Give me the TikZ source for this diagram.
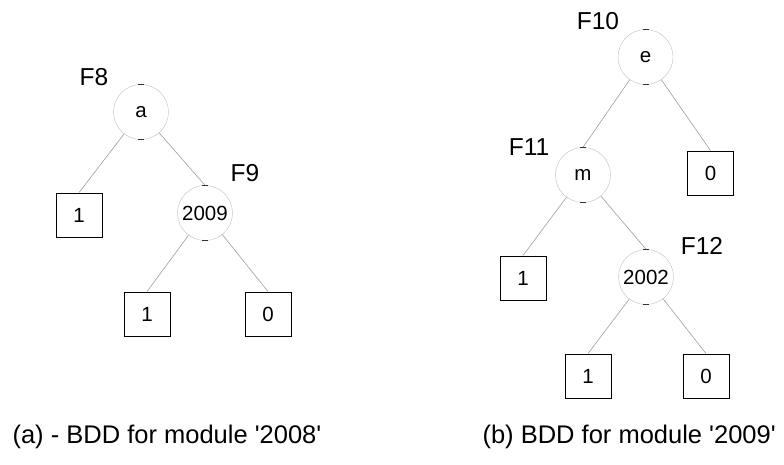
\documentclass[tikz,border=0pt]{standalone}
\usepackage{fontspec}
\setmainfont{Liberation Sans}
\usepackage{tikz}

\begin{document}
\begin{tikzpicture}[x=1pt, y=-1pt,
		node_style/.style={circle,draw=black!25,fill=white,minimum size=55pt,inner sep=0pt,font=\fontsize{20.5}{22}\selectfont},
		leaf_style/.style={rectangle,draw=black,line width=0.9pt,minimum width=46pt,minimum height=44pt,inner sep=0pt,font=\fontsize{20.5}{22}\selectfont},
		name_style/.style={font=\fontsize{24.5}{26}\selectfont},
		cap_style/.style={font=\fontsize{25.5}{28}\selectfont},
		edge_style/.style={draw=black!38,line width=0.6pt},
		tick_style/.style={draw=black!80,line width=1.5pt}]
		
		\useasboundingbox (0,0) rectangle (784,464);
		
		% module 2008
		\node[node_style] (n0) at (141,112)  {a};
		\node[leaf_style] (n1) at (79,215)  {1};
		\node[node_style] (n2) at (205,213)  {2009};
		\node[leaf_style] (n3) at (147,314)  {1};
		\node[leaf_style] (n4) at (268,314)  {0};
		\node[name_style] (f8) at (94,77)  {F8};
		\node[name_style] (f9) at (245,173)  {F9};
		
		% module 2009
		\node[node_style] (n5) at (645.5,57)  {e};
		\node[node_style] (n6) at (583,175)  {m};
		\node[leaf_style] (n7) at (710.5,173)  {0};
		\node[leaf_style] (n8) at (523,278)  {1};
		\node[node_style] (n9) at (646,277)  {2002};
		\node[leaf_style] (n10) at (588,376)  {1};
		\node[leaf_style] (n11) at (706,376)  {0};
		\node[name_style] (f10) at (598,21)  {F10};
		\node[name_style] (f11) at (529,147)  {F11};
		\node[name_style] (f12) at (702,246)  {F12};
		
		\node[cap_style,anchor=west] (ca) at (9,437)  {(a) - BDD for module \textquotesingle2008\textquotesingle};
		\node[cap_style,anchor=west] (cb) at (479,437)  {(b) BDD for module \textquotesingle2009\textquotesingle};
		
		\draw[edge_style]  (n0) edge (n1.north);
		\draw[edge_style]  (n0) edge (n2.north);
		\draw[edge_style]  (n2) edge (n3.north);
		\draw[edge_style]  (n2) edge (n4.north);
		\draw[edge_style]  (n5) edge (n6.north);
		\draw[edge_style]  (n5) edge (n7.north);
		\draw[edge_style]  (n6) edge (n8.north);
		\draw[edge_style]  (n6) edge (n9.north);
		\draw[edge_style]  (n9) edge (n10.north);
		\draw[edge_style]  (n9) edge (n11.north);
		
		\foreach \n in {n0,n2,n5,n6,n9} {
			\draw[tick_style] ([xshift=-3pt]\n.north) -- ([xshift=3pt]\n.north);
			\draw[tick_style] ([xshift=-3pt]\n.south) -- ([xshift=3pt]\n.south);
		}
		
		\end{tikzpicture}
\end{document}
